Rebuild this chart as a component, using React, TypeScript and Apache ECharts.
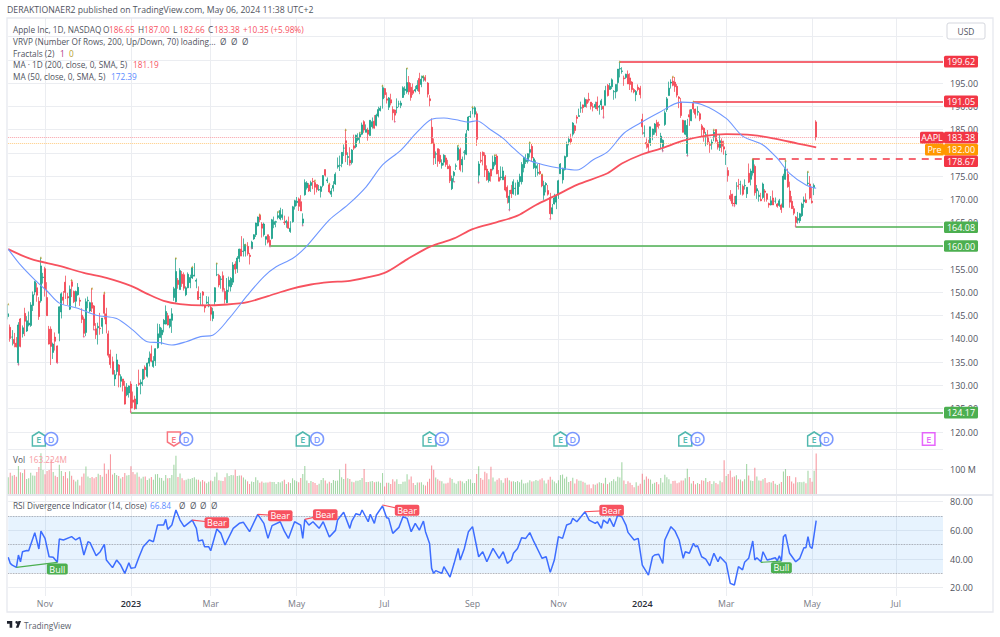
import React, { useEffect, useRef } from "react";
import * as echarts from "echarts";

// [open, high, low, close]
const oct22 = [[144.8,147.5,144.2,145.4],[142.5,143.1,139.4,140.1],[140.4,141.9,138.6,140.4],[139.9,141.3,138.2,139.0],[139.1,140.4,138.2,138.3],[134.9,143.6,134.4,143.0],[144.3,144.5,138.2,138.4],[141.1,142.9,140.3,142.4],[145.5,146.7,140.6,143.8],[141.7,144.9,141.5,143.9],[143.0,145.9,142.7,143.4],[142.9,147.9,142.6,147.3],[147.2,150.2,146.0,149.5],[150.1,152.5,149.4,152.3],[151.0,152.0,148.0,149.4],[148.1,149.0,144.1,144.8],[148.2,157.5,147.8,155.7],[153.2,154.2,151.9,153.3]];
const nov22 = [[155.1,155.5,149.1,150.7],[148.9,152.2,145.0,145.0],[142.1,142.8,138.8,138.9],[142.1,142.7,134.4,138.4],[137.1,139.2,135.7,138.9],[140.4,141.4,137.5,139.5],[138.5,138.6,134.8,134.9],[141.2,147.0,139.5,146.9],[145.8,150.0,144.4,149.7],[149.0,150.3,147.4,148.3],[152.2,153.6,148.6,150.0],[149.1,149.9,147.3,148.8],[146.4,151.5,146.2,150.7],[152.3,152.7,149.0,151.3],[150.2,150.4,147.7,148.0],[148.1,150.4,146.9,150.2],[149.5,152.0,149.3,151.1],[148.3,148.9,147.1,148.1],[145.1,146.6,143.4,144.2],[144.3,144.8,140.4,141.2],[141.4,148.7,140.6,148.0]];
const dec22 = [[148.2,149.1,146.6,148.3],[146.0,148.0,145.7,147.8],[147.8,150.9,145.8,146.6],[147.1,147.3,141.9,142.9],[142.2,143.4,140.0,140.9],[142.4,143.5,138.8,142.7],[142.3,145.6,140.9,142.2],[142.7,144.5,141.1,144.5],[149.5,150.0,144.2,145.5],[145.4,146.7,141.2,143.2],[141.1,141.8,136.0,136.5],[136.7,137.7,133.7,134.5],[135.1,136.2,132.4,132.4],[131.4,133.3,129.9,132.3],[133.0,136.8,132.2,135.5],[134.4,134.6,129.6,132.2],[130.9,132.4,129.6,131.9],[131.4,131.4,128.7,130.0],[129.7,131.0,125.9,126.0],[128.0,130.5,127.7,129.6],[128.4,130.0,127.4,129.9]];
const jan23 = [[130.3,130.9,124.17,125.1],[126.9,128.7,125.1,126.4],[127.1,127.8,124.8,125.0],[126.0,130.3,124.9,129.6],[130.5,133.4,129.9,130.2],[130.3,131.3,128.1,130.7],[131.3,133.5,129.9,133.5],[133.9,134.3,131.4,133.4],[132.0,134.9,131.7,134.8],[134.8,137.3,134.1,135.9],[136.8,138.6,135.0,135.2],[134.1,136.3,133.8,135.3],[135.3,138.0,134.2,137.9],[138.1,143.3,137.9,141.1],[140.3,143.2,140.3,142.5],[140.9,142.4,138.8,141.9],[143.2,144.3,141.4,144.0],[143.2,147.2,143.1,145.9],[145.0,145.6,142.9,143.0],[142.7,144.3,142.3,144.3]];
const feb23 = [[144.0,146.6,141.3,145.4],[148.9,151.2,148.2,150.8],[148.0,157.4,147.8,154.5],[152.6,153.1,150.8,151.7],[150.6,155.2,150.6,154.7],[153.9,154.6,151.2,151.9],[153.8,154.3,150.4,150.9],[149.5,151.3,149.2,151.0],[151.0,154.3,150.9,153.9],[152.1,153.8,150.9,153.2],[153.1,155.5,152.9,155.3],[153.5,156.3,153.5,153.7],[152.4,153.0,150.9,152.6],[150.2,151.3,148.4,148.5],[148.9,149.9,147.2,148.9],[150.1,150.3,147.2,149.4],[147.1,147.2,145.7,146.7],[147.7,149.2,147.5,147.9],[147.1,149.1,146.8,147.4]];
const mar23 = [[146.8,147.2,143.9,145.3],[144.4,146.7,143.8,145.9],[148.0,151.1,147.3,151.0],[153.8,156.3,153.5,153.8],[153.7,154.0,151.1,151.6],[152.8,153.5,150.8,152.9],[153.6,154.5,150.2,150.6],[150.2,150.9,147.6,148.5],[147.8,153.1,147.7,150.5],[151.3,153.4,150.1,152.6],[151.2,153.3,150.2,153.0],[152.2,156.5,151.6,155.9],[156.1,156.7,154.0,155.0],[155.1,157.8,154.2,157.4],[157.3,159.4,156.5,159.3],[159.3,162.1,157.8,157.8],[158.8,161.6,157.7,158.9],[158.9,160.3,157.7,160.3],[159.9,160.8,157.9,158.3],[158.0,158.5,156.0,157.7],[159.4,161.1,159.4,160.8],[161.5,162.5,161.3,162.4],[162.4,165.0,161.9,164.9]];
const apr23 = [[164.3,166.3,164.2,166.2],[166.6,166.8,165.1,165.6],[164.7,165.1,161.8,163.8],[162.4,165.0,162.0,164.7],[161.4,162.0,160.1,162.0],[162.4,162.4,160.5,160.8],[161.2,162.1,159.8,160.1],[161.6,165.8,161.4,165.6],[164.6,166.3,163.8,165.2],[165.1,165.4,164.0,165.2],[166.1,167.4,165.7,166.5],[165.8,168.2,165.5,167.6],[166.1,167.9,165.6,166.7],[165.1,166.5,164.5,165.0],[165.0,165.6,163.9,165.3],[165.2,166.3,163.7,163.8],[163.1,165.3,162.8,163.8],[165.2,168.6,165.0,168.4],[168.5,169.9,167.8,169.7]];
const may23 = [[169.3,170.5,168.6,169.6],[170.1,170.4,167.5,168.5],[169.5,170.9,167.5,167.5],[164.9,167.0,164.3,165.8],[171.0,174.3,170.8,173.6],[172.5,173.9,172.1,173.5],[173.1,173.5,171.6,171.8],[173.0,174.0,171.6,173.6],[173.9,174.6,172.2,173.8],[173.6,174.1,171.0,172.6],[173.2,173.2,171.5,172.1],[172.0,173.1,171.8,172.1],[171.7,172.9,170.4,172.7],[173.0,175.2,172.6,175.1],[176.4,176.4,174.9,175.2],[174.0,174.7,173.5,174.2],[173.1,173.4,171.3,171.6],[171.1,172.4,170.5,171.8],[172.4,173.9,171.7,173.0],[173.3,175.8,173.1,175.4],[177.0,179.0,176.6,177.3],[177.3,179.4,176.1,177.3]];
const jun23 = [[177.7,180.1,176.9,180.1],[181.0,181.8,179.3,181.0],[182.6,185.0,178.0,179.6],[179.0,180.1,177.4,179.2],[178.4,181.2,177.3,177.8],[177.9,180.8,177.5,180.6],[181.5,183.9,180.6,181.0],[181.3,183.9,181.0,183.8],[182.8,184.2,182.5,183.3],[183.4,184.4,182.0,184.0],[184.0,186.5,183.8,186.0],[186.7,187.0,184.3,184.9],[184.4,186.1,184.4,185.0],[184.9,185.4,182.6,184.0],[183.7,187.0,183.7,187.0],[185.6,187.6,185.2,186.7],[186.8,188.1,185.2,185.3],[185.9,188.4,185.7,188.1],[187.9,189.9,187.6,189.3],[189.1,190.1,188.9,189.6],[191.6,194.5,189.5,194.0]];
const jul23 = [[193.8,193.9,191.8,192.5],[191.6,193.0,190.6,191.3],[189.8,192.0,189.2,191.8],[191.4,192.7,190.2,190.7],[189.3,190.0,187.0,188.6],[189.2,189.3,186.6,188.1],[189.7,191.7,188.5,189.8],[190.5,191.2,189.8,190.5],[190.2,191.2,189.6,190.7],[191.9,194.3,191.8,194.0],[193.4,194.3,192.4,193.7],[193.1,198.2,192.7,195.1],[195.1,196.5,192.5,193.1],[194.1,195.0,191.2,191.9],[193.4,194.9,192.4,192.8],[193.3,194.4,193.0,193.6],[193.7,195.6,193.3,194.5],[196.0,197.2,192.6,193.2],[194.7,196.6,194.1,195.8],[196.1,196.5,195.3,196.5]];
const aug23 = [[196.2,196.7,195.3,195.6],[195.0,195.2,191.9,192.6],[191.6,192.4,190.0,191.2],[185.5,187.4,181.9,182.0],[182.1,183.1,177.4,178.9],[179.7,180.3,177.6,179.8],[180.9,180.9,177.0,178.2],[179.5,180.8,177.6,178.0],[177.3,178.6,176.6,177.8],[178.0,179.7,177.3,179.5],[178.9,179.5,177.0,177.5],[177.1,178.5,176.5,176.6],[177.1,177.5,173.5,174.0],[172.3,175.1,172.0,174.5],[175.1,176.1,173.7,175.8],[177.1,177.7,176.3,177.2],[178.5,181.6,178.3,181.1],[180.7,181.1,176.0,176.4],[177.4,179.2,175.8,178.6],[180.1,180.6,178.5,180.2],[179.7,184.9,179.5,184.1],[184.9,187.9,184.7,187.7],[187.8,189.0,187.5,187.9]];
const sep23 = [[189.5,189.9,188.3,189.5],[188.3,190.0,187.6,189.7],[188.4,188.9,181.5,182.9],[175.2,178.2,173.5,177.6],[178.4,180.2,177.8,178.2],[180.1,180.3,177.3,179.4],[179.5,180.1,174.8,176.3],[176.5,177.3,174.0,174.2],[174.0,176.1,173.6,175.7],[176.5,176.5,173.8,175.0],[176.5,179.4,176.2,178.0],[177.5,179.6,177.1,179.1],[179.3,179.7,175.4,175.5],[174.7,176.3,173.9,173.9],[174.7,177.1,174.1,174.8],[174.2,177.0,174.2,176.1],[174.8,175.2,171.7,172.0],[172.6,173.0,169.1,170.4],[169.3,172.0,167.6,170.7],[172.0,173.1,170.3,171.2]];
const oct23 = [[171.2,174.3,171.0,173.8],[172.3,173.6,170.8,172.4],[171.1,174.2,171.0,173.7],[173.8,175.5,172.7,174.9],[173.8,178.0,173.2,177.5],[176.8,179.1,175.8,179.0],[178.1,179.7,177.6,178.4],[178.2,179.9,177.7,179.8],[180.1,182.3,179.0,180.7],[181.4,181.9,178.1,178.9],[176.8,179.1,176.5,178.7],[176.7,178.4,174.8,177.2],[175.6,177.6,175.1,175.8],[176.0,177.8,175.3,175.5],[175.3,175.4,172.6,172.9],[170.9,174.0,169.9,173.0],[173.1,173.7,171.5,173.4],[171.9,173.1,170.8,171.1],[170.4,171.4,165.7,166.9],[166.9,169.0,166.8,168.2],[169.0,171.2,168.9,170.3],[169.4,170.9,167.9,170.8]];
const nov23 = [[171.0,174.2,170.1,174.0],[175.5,177.8,175.5,177.6],[174.2,176.8,173.4,176.7],[176.4,179.4,176.2,179.2],[179.2,182.4,179.0,181.8],[182.4,183.5,181.6,182.9],[183.0,184.1,181.8,182.4],[184.0,186.6,183.5,186.4],[185.8,186.0,184.2,184.8],[187.7,188.1,186.3,187.4],[187.8,189.5,187.8,188.0],[189.6,191.0,188.6,189.7],[190.3,190.4,188.6,189.7],[189.9,191.9,189.9,191.5],[191.4,191.5,189.7,190.6],[191.5,192.9,190.8,191.3],[190.9,190.9,189.3,190.0],[189.9,190.7,188.9,189.8],[189.8,191.0,189.4,190.4],[190.9,192.1,189.0,189.4],[189.8,190.3,188.2,190.0]];
const dec23 = [[190.3,191.6,189.2,191.2],[190.0,190.1,187.5,189.4],[190.2,194.4,190.2,193.4],[194.5,194.8,192.1,192.3],[193.6,195.0,193.6,194.3],[194.2,196.0,193.7,195.7],[193.1,193.5,191.4,193.2],[193.1,194.7,191.7,194.7],[195.1,198.0,193.2,198.0],[198.0,199.62,196.2,198.1],[197.5,198.4,197.0,197.6],[196.1,196.6,194.4,195.9],[196.2,197.0,195.9,196.9],[196.9,197.7,194.8,194.8],[196.1,197.1,193.5,194.7],[195.2,195.4,193.0,193.6],[193.6,193.9,192.8,193.1],[192.5,193.5,191.1,193.2],[194.1,194.7,193.2,193.6],[193.9,194.4,191.7,192.5]];
const jan24 = [[187.2,188.4,183.9,185.6],[184.2,185.9,183.4,184.3],[182.2,183.1,180.9,181.9],[182.0,182.8,180.2,181.2],[182.1,185.6,181.5,185.6],[183.9,185.2,182.7,185.1],[184.4,186.4,183.9,186.2],[186.5,187.1,183.6,185.6],[186.1,186.7,185.2,185.9],[182.2,184.3,180.9,183.6],[181.3,182.9,180.3,182.7],[186.1,189.1,185.8,188.6],[189.3,192.0,188.8,191.6],[192.3,195.3,192.3,193.9],[195.0,195.8,193.8,195.2],[195.4,196.4,194.3,194.5],[195.2,196.3,193.1,194.2],[194.3,194.8,191.9,192.4],[192.0,192.2,189.6,191.7],[190.9,191.8,187.5,188.0],[187.0,187.1,184.4,184.4]];
const feb24 = [[184.0,187.0,183.8,186.9],[179.9,187.3,179.3,185.9],[188.2,189.3,185.8,187.7],[186.9,189.3,186.8,189.3],[190.6,191.05,188.6,189.4],[189.4,189.5,187.4,188.3],[188.7,190.0,188.0,188.9],[188.4,188.7,186.8,187.2],[185.8,186.2,183.5,185.0],[185.3,185.5,182.4,184.2],[183.6,184.5,181.4,183.9],[183.4,184.9,181.7,182.3],[181.8,182.4,180.0,181.6],[181.9,182.9,180.7,182.3],[183.5,185.0,182.5,184.4],[185.0,185.0,182.2,182.5],[182.2,182.8,180.7,181.2],[181.1,183.9,180.4,182.6],[182.5,183.1,180.1,181.4],[181.3,182.6,179.6,180.8]];
const mar24 = [[179.6,180.5,177.4,179.7],[176.2,176.9,173.8,175.1],[170.8,172.0,169.6,170.1],[171.1,171.2,168.5,169.1],[169.2,170.7,168.5,169.0],[169.0,173.7,168.9,170.7],[172.9,174.4,172.1,172.8],[173.2,174.0,171.0,173.2],[172.8,173.2,170.8,171.1],[172.9,174.3,172.1,173.0],[171.2,172.6,170.3,172.6],[175.6,177.7,173.5,173.7],[174.3,176.6,173.0,176.1],[175.7,178.67,175.1,178.67],[177.1,177.5,170.8,171.4],[171.8,173.1,170.1,172.3],[170.6,171.9,169.5,170.9],[170.0,171.4,169.6,169.7],[170.4,173.6,170.1,173.3],[171.8,172.2,169.5,171.5]];
const apr24 = [[171.2,171.3,169.5,170.0],[169.1,169.3,168.2,168.8],[168.8,170.7,168.7,169.7],[170.3,171.9,168.8,168.8],[169.6,170.4,169.1,169.6],[169.0,169.2,168.2,168.5],[168.7,170.1,168.4,169.7],[168.8,169.1,167.1,167.8],[168.3,175.5,168.2,175.0],[174.3,178.4,174.2,176.6],[175.4,176.6,172.5,172.7],[171.8,173.8,168.2,169.4],[169.6,170.7,168.0,168.0],[168.0,168.6,166.6,167.0],[166.2,166.4,164.08,165.0],[165.5,167.3,164.8,165.9],[165.4,167.1,164.9,166.9],[166.5,169.3,166.2,169.0],[169.5,170.6,168.2,169.9],[169.9,171.3,169.2,169.3],[173.4,176.0,173.0,173.5],[173.3,175.0,170.0,170.3]];
const may24 = [[169.6,172.7,169.1,169.3],[172.5,173.4,170.9,173.0],[186.65,187.0,182.66,183.38]];
const candles = [...oct22,...nov22,...dec22,...jan23,...feb23,...mar23,...apr23,...may23,...jun23,...jul23,...aug23,...sep23,...oct23,...nov23,...dec23,...jan24,...feb24,...mar24,...apr24,...may24];

// volume, millions
const volumes = [68,86,74,77,70,113,88,85,99,61,64,86,75,74,89,109,164,97,
80,93,97,140,89,74,69,118,93,73,89,64,92,74,58,51,58,35,70,83,111,
71,65,69,64,69,82,77,70,123,82,98,160,79,85,77,73,63,69,85,75,77,
112,89,80,87,70,63,70,71,57,63,69,58,80,81,66,65,54,77,64,65,
77,118,154,69,83,64,56,58,62,61,65,68,59,58,51,57,51,44,50,
55,52,70,87,56,54,53,68,84,73,77,76,98,73,75,75,67,59,52,41,51,49,68,
56,46,51,46,47,47,50,49,49,41,49,47,52,58,41,48,45,64,56,
52,48,65,81,113,55,45,53,49,45,37,42,57,65,55,43,50,45,57,54,55,99,
68,61,122,64,61,50,48,54,54,57,65,101,49,49,51,53,48,50,51,46,85,
31,46,46,41,60,51,60,41,41,50,51,80,59,71,45,37,47,47,48,38,
35,50,62,115,98,67,60,54,52,43,43,46,66,61,46,42,52,54,51,44,53,60,60,
45,45,81,112,65,58,90,84,60,110,67,51,58,64,56,46,64,66,56,51,
52,49,53,48,58,43,44,47,56,51,52,57,54,59,64,55,43,58,70,58,51,44,
56,77,79,63,70,49,53,66,43,60,54,54,50,46,38,39,24,40,38,43,48,
45,43,66,41,47,53,60,52,70,67,128,55,41,52,46,37,28,48,34,42,
82,58,71,62,59,42,46,49,40,65,47,78,68,60,42,53,54,44,47,55,55,
64,102,69,43,53,40,45,41,56,54,65,49,53,41,52,45,40,54,48,136,
73,81,95,68,71,76,60,59,52,60,121,75,55,53,106,71,55,54,60,65,
46,49,47,53,42,37,42,49,91,101,73,73,51,43,68,48,49,48,50,44,94,65,
50,94,163.2];

// [bar index, value]
const ma200 = [[0,159.3],[11,157.2],[25,155.7],[37,154.2],[48,153.1],[60,151.4],[68,149.7],[76,148.2],[84,147.5],[95,147.2],[107,147.4],[117,147.9],[127,149.2],[138,150.7],[148,151.7],[157,152.2],[167,152.5],[184,154.2],[195,157.1],[206,159.8],[218,161.6],[227,163.6],[239,165.1],[249,166.5],[258,168.8],[268,170.9],[278,173.1],[293,175.6],[300,177.7],[310,179.7],[319,180.9],[330,182.6],[340,183.6],[351,184.0],[364,183.8],[374,183.1],[386,182.0],[395,181.19]];
const ma50 = [[0,159.3],[6,155.9],[13,152.7],[19,150.3],[25,147.7],[34,146.6],[43,145.1],[53,144.4],[61,141.9],[68,139.4],[74,139.2],[80,138.7],[87,139.4],[94,140.5],[100,140.8],[108,144.4],[117,149.4],[125,153.4],[131,155.5],[139,157.3],[145,159.5],[157,165.6],[166,168.8],[175,172.7],[183,177.4],[192,180.6],[200,184.5],[207,187.2],[213,187.5],[219,187.1],[225,186.6],[229,186.9],[236,184.9],[242,183.1],[247,181.0],[254,178.5],[262,177.4],[270,176.7],[278,176.3],[286,178.5],[293,180.2],[301,184.2],[309,186.4],[318,188.6],[329,190.9],[339,190.4],[351,187.4],[359,183.6],[369,181.7],[376,178.8],[382,175.6],[390,173.1],[395,172.39]];
const rsi = [[0,41.2],[1,37],[2,35.8],[4,34.2],[5,42.8],[6,38.1],[7,45.1],[9,46],[10,45.8],[13,58.4],[15,47],[16,59.5],[18,54.4],[20,41.6],[22,41.2],[24,37.7],[25,54],[27,53.3],[31,55.6],[33,53.3],[35,55.1],[37,42.8],[39,52.1],[40,51.4],[43,42.3],[45,45.1],[47,50.2],[48,39.3],[51,34],[53,39.3],[55,35.8],[57,30],[59,37.4],[60,33.5],[62,34],[64,41.6],[66,48.6],[69,53.3],[71,52.1],[73,63.7],[76,63.7],[77,67.7],[78,60.7],[80,63.7],[82,74.2],[84,67.2],[86,62.6],[88,64.9],[90,67.2],[92,61.4],[93,52.6],[95,53.3],[96,48.6],[98,48.6],[99,45.8],[102,60.9],[104,57.9],[106,49.8],[110,61.4],[113,64.9],[115,65.6],[118,59.1],[122,71.2],[125,64.9],[127,54.4],[129,63.3],[133,66],[135,59.5],[137,54.4],[140,66],[143,63.7],[144,54.4],[145,67.7],[147,63.7],[149,66],[152,61.4],[154,66],[157,55.4],[160,60],[161,67.2],[164,72.6],[167,61.4],[168,66.5],[170,71.6],[172,70.7],[173,74.2],[176,66],[177,71.2],[179,64.9],[180,70.7],[183,77],[185,68.8],[186,68.4],[188,57.9],[191,62.1],[193,69.5],[195,68.4],[197,59.1],[199,64.9],[201,60.2],[203,66.5],[204,59.1],[206,50.9],[207,33.5],[208,30],[209,31.9],[212,30],[213,34.7],[216,27.4],[218,37],[220,47.4],[221,39.3],[223,47.4],[225,59.1],[227,62.6],[230,41.6],[232,45.1],[234,38.1],[237,47.4],[240,40.5],[242,45.1],[244,37],[246,39.3],[247,44],[249,47.4],[251,54.9],[253,54.4],[255,58.4],[257,52.1],[259,46.3],[261,40.5],[263,41.6],[265,30.7],[267,39.3],[269,55.6],[271,54.4],[273,63.7],[275,64.9],[276,68.4],[278,66],[282,73],[284,67.2],[287,64.9],[288,66],[290,61.4],[291,67.2],[293,64.9],[294,68.4],[296,62.6],[298,70.7],[300,69.5],[302,63.7],[303,58.6],[306,53.3],[308,54.4],[310,35.8],[313,28.8],[315,41.6],[316,42.8],[318,43.3],[320,37],[321,53.3],[324,62.6],[326,59.5],[328,53.3],[330,40.5],[331,45.1],[333,44],[335,50.9],[336,48.6],[337,49.3],[339,41.6],[341,40],[343,35.3],[345,44],[347,38.1],[348,41.6],[351,37],[353,23],[355,21.9],[357,34.7],[359,32.4],[360,37.7],[362,40.5],[364,52.6],[365,39.3],[366,40.9],[368,38.1],[369,45.1],[371,39.3],[373,40],[375,40.9],[376,38.8],[377,42.3],[378,38.6],[379,55.6],[380,57.2],[382,44],[385,38.1],[387,40.5],[389,47.9],[390,47.9],[391,55.6],[392,48.6],[393,47.4],[395,66.84]];

const divergences = [
  { name: "Bull", from: [4, 34.2], to: [24, 37.7] },
  { name: "Bear", from: [90, 67.2], to: [102, 65.3] },
  { name: "Bear", from: [122, 71.2], to: [133, 70.2] },
  { name: "Bear", from: [145, 67.7], to: [155, 70.9] },
  { name: "Bear", from: [183, 77.7], to: [195, 74] },
  { name: "Bear", from: [282, 73], to: [295, 74] },
  { name: "Bull", from: [368, 37.7], to: [378, 38.6] },
];

const fractalHighs = [0,16,31,41,47,82,90,102,116,123,132,150,157,165,172,183,195,203,220,227,238,255,261,299,325,335,345,364,380,391];
const fractalLows = [5,24,37,42,60,95,105,119,128,144,167,189,218,230,245,265,291,313,320,332,355,385];

const levels = [
  { start: 299, value: 199.62, color: "#F23645", type: "solid" },
  { start: 335, value: 191.05, color: "#F23645", type: "solid" },
  { start: 364, value: 178.67, color: "#F23645", type: [7, 6] },
  { start: 385, value: 164.08, color: "#4CAF50", type: "solid" },
  { start: 128, value: 160.0, color: "#4CAF50", type: "solid" },
  { start: 60, value: 124.17, color: "#4CAF50", type: "solid" },
];
const lastPrice = 183.38;
const prePrice = 182.0;

const timeTicks: Record<number, string> = { 18: "Nov", 60: "2023", 99: "Mar", 141: "May", 184: "Jul", 227: "Sep", 269: "Nov", 310: "2024", 351: "Mar", 393: "May", 434: "Jul" };

const earningsUp = [15, 144, 206, 270, 331, 394];
const earningsDown = [81];
const earningsNext = [450];
const dividends = [21, 87, 151, 212, 276, 337, 400];

const priceTicksHidden = [205, 200, 180];
const SLOTS = 458;
const RED = "#F23645";
const TEAL = "#089981";
const GRID = "#ebedf1";
const FONT = "'Open Sans', sans-serif";
const TXT = "#50535e";

const tags = [
  { text: "199.62", color: "#F23645", y: 61.6 },
  { text: "191.05", color: "#F23645", y: 101.4 },
  { text: "183.38", color: "#F23645", y: 137.6 },
  { text: "182.00", color: "#FF9800", y: 149.6 },
  { text: "178.67", color: "#F23645", y: 161.2 },
  { text: "164.08", color: "#4CAF50", y: 227.2 },
  { text: "160.00", color: "#4CAF50", y: 246 },
  { text: "124.17", color: "#4CAF50", y: 412.6 },
];

const legendTexts: [string, number, number, string][] = [
  ["DERAKTIONAER2 published on TradingView.com, May 06, 2024 11:38 UTC+2", 7, 10, TXT],
  ["Apple Inc, 1D, NASDAQ", 13, 29, TXT],
  ["O", 103, 29, TXT], ["186.65", 109, 29, "#f7525f"],
  ["H", 138, 29, TXT], ["187.00", 144, 29, "#f7525f"],
  ["L", 173, 29, TXT], ["182.66", 179, 29, "#f7525f"],
  ["C", 208, 29, TXT], ["183.38", 214, 29, "#f7525f"],
  ["+10.35 (+5.98%)", 243, 29, "#f7525f"],
  ["VRVP (Number Of Rows, 200, Up/Down, 70) loading...", 13, 41, TXT],
  ["Ø", 220, 41, TXT], ["Ø", 231, 41, TXT], ["Ø", 242, 41, TXT],
  ["Fractals (2)", 13, 53, TXT], ["1", 60, 53, "#b0357f"], ["0", 69, 53, "#b5a030"],
  ["MA · 1D (200, close, 0, SMA, 5)", 13, 64.5, TXT], ["181.19", 133, 64.5, "#f7525f"],
  ["MA (50, close, 0, SMA, 5)", 13, 76.5, TXT], ["172.39", 111, 76.5, "#5b8cff"],
  ["Vol", 13, 459, TXT], ["163.224M", 29, 459, "#f79aa2"],
  ["RSI Divergence Indicator (14, close)", 13, 505.5, TXT], ["66.84", 150, 505.5, "#5b8cff"],
  ["Ø", 179, 505.5, TXT], ["Ø", 190, 505.5, TXT], ["Ø", 200, 505.5, TXT], ["Ø", 211, 505.5, TXT],
  ["TradingView", 24, 625, "#5a5e6b"],
];

echarts.graphic.registerShape(
  "tvlogo",
  echarts.graphic.extendPath("M14 6H2v6h6v9h6V6zm14 15h-6l6-15h6l-6 15zm-4-9a3 3 0 1 0 0-6 3 3 0 0 0 0 6z", {})
);

function tagGraphic(text: string, color: string, x: number, y: number, w: number) {
  return [
    { type: "rect", z: 100, shape: { x, y: y - 5.8, width: w, height: 11.6, r: 1.5 }, style: { fill: color } },
    { type: "text", z: 101, x: x + w / 2, y, style: { text, fill: "#fff", font: `9px ${FONT}`, align: "center", verticalAlign: "middle" } },
  ];
}

function buildOption() {
  const cats = Array.from({ length: SLOTS }, (_, i) => String(i));
  const gridBox = { left: 8.2, width: 934.8 };
  const xBase = { type: "category", data: cats, boundaryGap: false, axisTick: { show: false }, axisLine: { show: false }, axisLabel: { show: false }, splitLine: { show: false } };
  const upDown = (c: number[]) => c[3] >= c[0];

  const graphic: any[] = [
    { type: "rect", z: 50, shape: { x: 7, y: 18, width: 986, height: 594 }, style: { fill: "none", stroke: "#e6e8ee", lineWidth: 1.3 } },
    { type: "rect", z: 50, shape: { x: 7, y: 494, width: 986, height: 2 }, style: { fill: "#e6e8ee" } },
    { type: "rect", z: 50, shape: { x: 947, y: 23, width: 38, height: 16, r: 2 }, style: { fill: "#fff", stroke: "#d5d7de", lineWidth: 1 } },
    { type: "text", z: 51, x: 966, y: 31, style: { text: "USD", fill: TXT, font: `8.4px ${FONT}`, align: "center", verticalAlign: "middle" } },
    { type: "tvlogo", z: 50, x: 6.1, y: 618.4, scaleX: 0.44, scaleY: 0.44, style: { fill: "#1e222d" } },
    ...legendTexts.map(([text, x, y, fill]) => ({ type: "text", z: 60, x, y, style: { text, fill, font: `${y === 10 ? 8.7 : 8.25}px ${FONT}`, verticalAlign: "middle" } })),
  ];
  tags.forEach((t) => graphic.push(...tagGraphic(t.text, t.color, 944, t.y, 34)));
  graphic.push(...tagGraphic("AAPL", "#F23645", 920, 137.6, 24));
  graphic.push(...tagGraphic("Pre", "#FF9800", 925, 149.6, 19));

  const eventLabel = (text: string, color: string) => ({ show: true, position: "inside", formatter: text, color, fontSize: 9, fontWeight: 600, fontFamily: FONT });
  const EVENT_Y = 72.84;
  const eventSeries = (idx: number[], symbol: string, color: string, text: string, size: any) => ({
    type: "scatter", xAxisIndex: 0, yAxisIndex: 0, clip: false, silent: true, z: 8,
    symbol, symbolSize: size,
    itemStyle: { color: "#fff", borderColor: color, borderWidth: 1.5 },
    label: eventLabel(text, color),
    data: idx.map((i) => [i, EVENT_Y]),
  });

  const series: any[] = [
    eventSeries(earningsUp, "path://M0,4L6,0L12,4V14H0Z", "#26a69a", "E", [13, 14]),
    eventSeries(earningsDown, "path://M0,0H12V10L6,14L0,10Z", "#f7525f", "E", [13, 14]),
    eventSeries(earningsNext, "rect", "#e040fb", "E", [12.5, 12.5]),
    eventSeries(dividends, "circle", "#5b7fff", "D", [13, 13]),
    {
      type: "candlestick", xAxisIndex: 1, yAxisIndex: 1, barWidth: 1.5, clip: false, silent: true, z: 4,
      itemStyle: { color: TEAL, color0: RED, borderColor: TEAL, borderColor0: RED, borderWidth: 0.7 },
      data: candles.map((c) => [c[0], c[3], c[2], c[1]]),
      markLine: {
        silent: true, symbol: ["none", "none"], label: { show: false }, animation: false,
        data: [
          ...levels.map((l) => [
            { coord: [l.start, l.value], lineStyle: { color: l.color, width: 1.5, type: l.type } },
            { coord: [SLOTS - 1, l.value] },
          ]),
          [{ coord: [0, lastPrice], lineStyle: { color: "#f9a0a8", width: 1, type: "dotted" } }, { coord: [SLOTS - 1, lastPrice] }],
          [{ coord: [0, prePrice], lineStyle: { color: "#ffcc80", width: 1, type: "dotted" } }, { coord: [SLOTS - 1, prePrice] }],
        ],
      },
    },
    { type: "scatter", xAxisIndex: 1, yAxisIndex: 1, silent: true, z: 5, symbol: "triangle", symbolSize: 2.4, itemStyle: { color: "#b5a030" }, data: fractalHighs.map((i) => [i, candles[i][1]]) },
    { type: "scatter", xAxisIndex: 1, yAxisIndex: 1, silent: true, z: 5, symbol: "triangle", symbolSize: 2.4, symbolRotate: 180, itemStyle: { color: "#e06a9a" }, data: fractalLows.map((i) => [i, candles[i][2]]) },
    { type: "line", xAxisIndex: 1, yAxisIndex: 1, silent: true, z: 6, symbol: "none", smooth: 0.3, lineStyle: { color: "#f7525f", width: 1.8 }, data: ma200 },
    { type: "line", xAxisIndex: 1, yAxisIndex: 1, silent: true, z: 6, symbol: "none", smooth: 0.3, lineStyle: { color: "#6f97ff", width: 1.1 }, data: ma50 },
    {
      type: "bar", xAxisIndex: 2, yAxisIndex: 2, barWidth: 1.1, silent: true, z: 3,
      data: volumes.map((v, i) => ({ value: v, itemStyle: { color: upDown(candles[i]) ? "rgba(76,175,80,.5)" : "rgba(242,54,69,.5)" } })),
    },
    {
      type: "line", xAxisIndex: 3, yAxisIndex: 3, silent: true, z: 6, symbol: "none", lineStyle: { color: "#3d6dff", width: 1.5 }, data: rsi,
      markArea: { silent: true, itemStyle: { color: "rgba(33,150,243,.11)" }, data: [[{ coord: [0, 70] }, { coord: [SLOTS - 1, 30] }]] },
      markLine: {
        silent: true, symbol: ["none", "none"], label: { show: false },
        lineStyle: { color: "#8a8d97", width: 0.8, type: "dotted" },
        data: [{ yAxis: 70 }, { yAxis: 50 }, { yAxis: 30 }],
      },
    },
    ...divergences.map((d) => {
      const bull = d.name === "Bull";
      const color = bull ? "#4CAF50" : "#f7525f";
      return {
        type: "line", xAxisIndex: 3, yAxisIndex: 3, silent: true, z: 7, symbol: "circle", symbolSize: 0.5,
        lineStyle: { color, width: 1.2 }, itemStyle: { color },
        data: [
          { value: d.from, label: { show: false } },
          {
            value: d.to,
            label: {
              show: true, formatter: d.name, position: bull ? "bottom" : "inside", distance: 1,
              color: "#fff", backgroundColor: color, fontSize: 9, fontFamily: FONT, padding: [1, 2.5, 1, 2.5], borderRadius: 2,
            },
          },
        ],
      };
    }),
  ];

  return {
    animation: false,
    backgroundColor: "#fff",
    grid: [
      { ...gridBox, top: 18, height: 578 },
      { ...gridBox, top: 36.5, height: 395.5 },
      { ...gridBox, top: 449.3, height: 45 },
      { ...gridBox, top: 501.7, height: 86 },
    ],
    xAxis: [
      {
        ...xBase, gridIndex: 0,
        splitLine: { show: true, interval: (i: number) => i in timeTicks, lineStyle: { color: GRID, width: 1 } },
        axisLabel: {
          show: true, interval: (i: number) => i in timeTicks, margin: 3,
          formatter: (v: string) => {
            const t = timeTicks[Number(v)];
            return /^\d{4}$/.test(t) ? `{y|${t}}` : t;
          },
          color: "#787b86", fontSize: 8.8, fontFamily: FONT,
          rich: { y: { color: "#2a2e39", fontSize: 9, fontFamily: FONT, fontWeight: 600 } },
        },
      },
      { ...xBase, gridIndex: 1 },
      { ...xBase, gridIndex: 2 },
      { ...xBase, gridIndex: 3 },
    ],
    yAxis: [
      { type: "value", gridIndex: 0, min: 0, max: 100, inverse: true, show: false, splitLine: { show: false } },
      {
        type: "value", gridIndex: 1, position: "right", min: 120, max: 205, interval: 5, scale: true,
        axisLine: { show: false }, axisTick: { show: false },
        splitLine: { lineStyle: { color: GRID, width: 1 } },
        axisLabel: { margin: 7, color: TXT, fontSize: 9, fontFamily: FONT, formatter: (v: number) => (priceTicksHidden.includes(v) ? "" : v.toFixed(2)) },
      },
      {
        type: "value", gridIndex: 2, position: "right", min: 0, max: 180, interval: 100,
        axisLine: { show: false }, axisTick: { show: false },
        splitLine: { lineStyle: { color: GRID, width: 1 } },
        axisLabel: { margin: 7, color: TXT, fontSize: 9, fontFamily: FONT, formatter: (v: number) => (v === 100 ? "100 M" : "") },
      },
      {
        type: "value", gridIndex: 3, position: "right", min: 20, max: 80, interval: 20,
        axisLine: { show: false }, axisTick: { show: false },
        splitLine: { lineStyle: { color: GRID, width: 1 } },
        axisLabel: { margin: 7, color: TXT, fontSize: 9, fontFamily: FONT, formatter: (v: number) => v.toFixed(2) },
      },
    ],
    graphic: { elements: graphic },
    series,
  };
}

export default function App() {
  const ref = useRef<HTMLDivElement>(null);
  useEffect(() => {
    const chart = echarts.init(ref.current!, undefined, { renderer: "svg" });
    chart.setOption(buildOption() as any);
    return () => chart.dispose();
  }, []);
  return <div ref={ref} style={{ position: "absolute", left: 0, top: 0, width: 1000, height: 637 }} />;
}
